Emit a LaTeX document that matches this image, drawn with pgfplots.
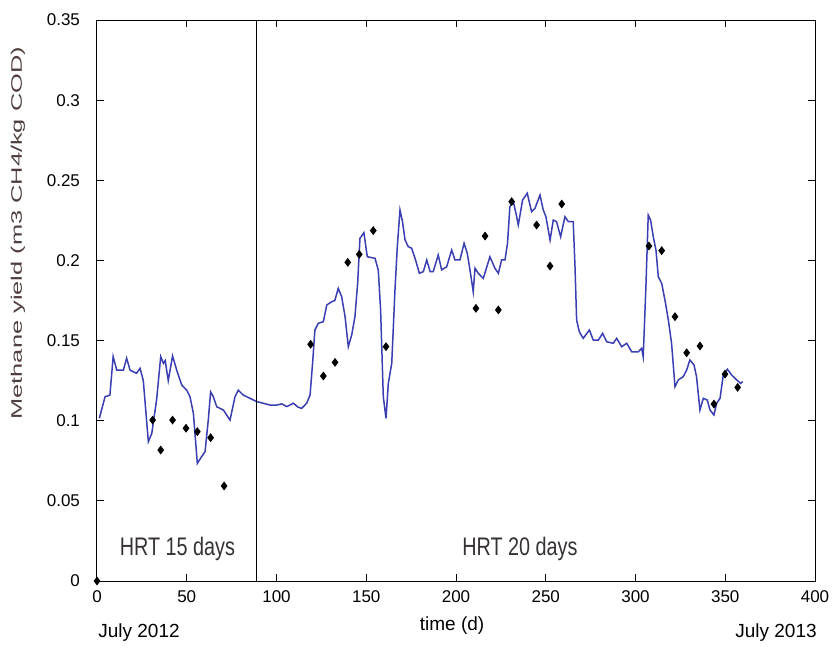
\documentclass[border=0pt]{standalone}
\usepackage{pgfplots}
\pgfplotsset{compat=1.18}
\usepackage{graphicx}
\usepackage{fontspec}
\setmainfont{Liberation Sans}
\definecolor{linec}{RGB}{58,62,178}
\definecolor{ylab}{RGB}{80,62,62}
\definecolor{hrt}{RGB}{55,50,50}
\begin{document}
\begin{tikzpicture}
\useasboundingbox (-48.5pt,-34.5pt) rectangle (371.5pt,290.5pt);
\begin{axis}[
  at={(0,0)}, anchor=south west,
  scale only axis, width=359pt, height=280.5pt,
  xmin=0, xmax=400, ymin=0, ymax=0.35,
  xtick={0,50,100,150,200,250,300,350,400},
  ytick={0,0.05,0.1,0.15,0.2,0.25,0.3,0.35},
  yticklabels={0,0.05,0.1,0.15,0.2,0.25,0.3,0.35},
  xticklabels={0,50,100,150,200,250,300,350,400},
  tick align=inside, major tick length=3.5pt,
  tick style={black, line width=0.5pt},
  axis line style={black, line width=0.5pt},
  ticklabel style={font=\fontsize{8.5}{10}\selectfont},
  yticklabel style={xshift=-5pt},
  xticklabel style={yshift=-1.5pt},
  ylabel={\scalebox{1}[0.6]{\fontsize{12.7}{14}\selectfont Methane yield (m3 CH4/kg COD)}},
  ylabel style={at={(axis description cs:-0.110,0.62)}, anchor=center, color=ylab},
  clip=false,
]
\addplot[linec, line width=0.75pt, mark=none] coordinates {
(1.3,0.1015) (4.5,0.115) (7.2,0.116) (9,0.140) (11,0.1316) (14.7,0.1316) (16.5,0.139) (18.4,0.1316)
(22,0.1296) (24,0.1327) (25.8,0.125) (28.6,0.0869) (30.5,0.092) (33.2,0.113) (35.5,0.140) (37,0.1358)
(38,0.1375) (39.7,0.125) (42.1,0.1404) (44.4,0.1316) (47.2,0.1223) (50,0.119) (51.8,0.115) (53.7,0.1046)
(55.9,0.0734) (58.3,0.0776) (60.2,0.0807) (62,0.1004) (63.3,0.118) (64.8,0.115) (66.7,0.1087) (70.4,0.1067)
(72.2,0.1036) (74.1,0.1004) (76.9,0.115) (78.7,0.119) (81.5,0.116) (85.2,0.114) (89,0.1119) (92.6,0.1109)
(96.4,0.1098) (100.1,0.1098) (103,0.1105) (105.7,0.1088) (109.4,0.1109) (112,0.1085) (114,0.1077) (116.8,0.1109)
(118.7,0.116) (120.1,0.1358) (121.4,0.1566) (123.3,0.1608) (126.1,0.1618) (128,0.1722) (130.7,0.1742) (132.5,0.175)
(134.4,0.1826) (136.3,0.1774) (138.2,0.1649) (140,0.1462) (141.9,0.1535) (143.7,0.1649) (145.2,0.1857) (146.5,0.2138)
(148.7,0.2173) (149.9,0.2076) (150.6,0.2023) (154.9,0.2013) (156.7,0.194) (158,0.1691) (159.5,0.115) (161,0.1015)
(162.3,0.1233) (164.2,0.1358) (166,0.1815) (167.3,0.2086) (168.8,0.2315) (170.2,0.2242) (171.6,0.2128) (173.4,0.2086)
(175.3,0.2076) (177.2,0.2013) (179.6,0.192) (181.8,0.193) (183.7,0.2003) (185.6,0.193) (187.3,0.193) (190.1,0.2034)
(192,0.1941) (194.8,0.196) (197.6,0.2065) (199.4,0.2003) (202.2,0.2003) (204.5,0.2107) (206.3,0.2044) (207.8,0.194)
(209.6,0.1805) (210.6,0.1951) (212.4,0.192) (215.2,0.1888) (218.9,0.2023) (221.7,0.1951) (223.6,0.192) (225.4,0.2003)
(227.3,0.2003) (228.7,0.2107) (230,0.2335) (231.9,0.2367) (233.4,0.2294) (234.7,0.2221) (237.1,0.2377) (239.7,0.2419)
(242.1,0.2304) (244,0.2325) (246.8,0.2408) (248.6,0.2315) (250.1,0.2273) (252.4,0.2127) (254.2,0.2252) (256,0.2242)
(258.3,0.2148) (260.7,0.2273) (262.6,0.2242) (265.3,0.2242) (266.3,0.1961) (267.2,0.1628) (268.7,0.1555) (270.9,0.1514)
(274.3,0.1566) (276.5,0.1503) (279.3,0.1503) (281.7,0.1545) (283.9,0.1493) (287.6,0.1483) (289.5,0.1514) (292.3,0.1462)
(295.1,0.1483) (297.9,0.143) (301.6,0.143) (303.4,0.1452) (304.3,0.1399) (305.8,0.1836) (307.1,0.2283) (308.4,0.2252)
(309.9,0.2148) (311.4,0.2065) (312.7,0.1898) (314.6,0.1857) (316.4,0.1753) (318.3,0.1628) (320.1,0.1483) (322,0.1212)
(323.8,0.1254) (326.6,0.1275) (328.5,0.1316) (330.3,0.1379) (332.6,0.1348) (334,0.1275) (335.9,0.1067) (337.8,0.114)
(340,0.1129) (341.5,0.1067) (343.7,0.1036) (345.2,0.1109) (347.1,0.114) (348.9,0.1285) (351.2,0.1321) (353.6,0.1285)
(356.4,0.1254) (358.6,0.1233) (359.7,0.1244)
};
\addplot[only marks, mark=diamond*, mark size=1.9pt, black] coordinates {
(0,0) (31,0.1004) (35.5,0.0817) (42.1,0.1004) (49.6,0.0953) (55.9,0.0932) (63.3,0.0894) (70.8,0.0593)
(119,0.1477) (126.1,0.1279) (132.6,0.1364) (139.7,0.1988) (146.1,0.2038) (153.9,0.2186) (161,0.1462)
(211.1,0.1701) (216.2,0.2152) (223.6,0.1691) (231,0.2367) (244.9,0.2221) (252.4,0.1965) (258.9,0.2352)
(307.5,0.209) (314.6,0.2061) (322,0.1649) (328.5,0.1424) (335.9,0.1466) (343.7,0.1104) (349.9,0.1291) (356.9,0.1208)
};
\addplot[black, line width=0.6pt, mark=none] coordinates {(89,0) (89,0.35)};
\node[color=hrt] at (axis cs:44.8,0.02) {\scalebox{0.78}[1]{\fontsize{12.7}{14}\selectfont HRT 15 days}};
\node[color=hrt] at (axis cs:235.6,0.02) {\scalebox{0.78}[1]{\fontsize{12.7}{14}\selectfont HRT 20 days}};
\node at (axis cs:23.4,-0.0324) {\fontsize{9.5}{11}\selectfont July 2012};
\node at (axis cs:378.3,-0.0324) {\fontsize{9.5}{11}\selectfont July 2013};
\node at (axis cs:197.8,-0.0275) {\fontsize{9.5}{11}\selectfont time (d)};
\end{axis}
\end{tikzpicture}
\end{document}
